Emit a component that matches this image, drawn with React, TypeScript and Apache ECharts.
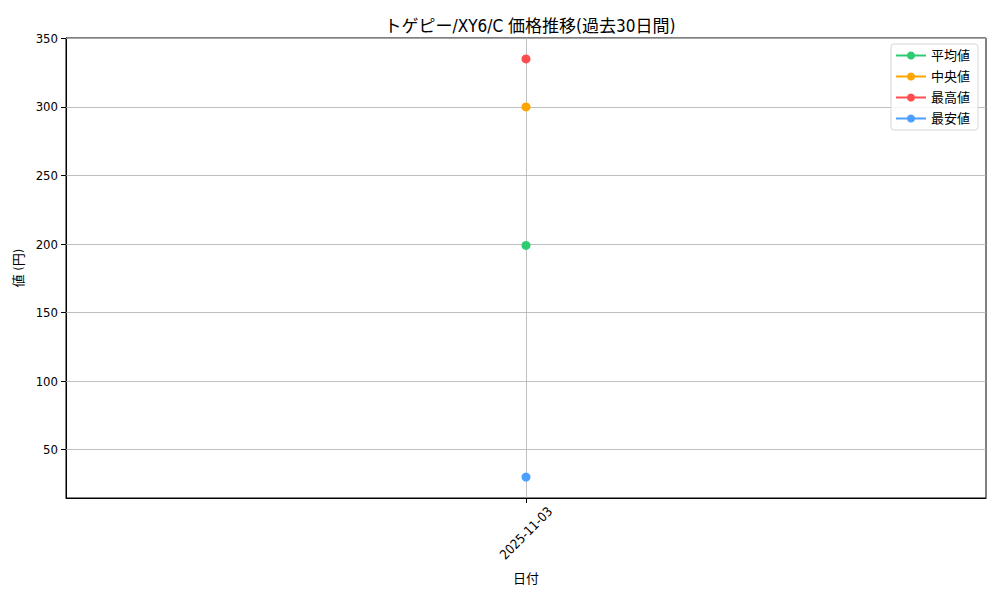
import { useEffect, useRef } from 'react';
import * as echarts from 'echarts';

// ─── Data ─────────────────────────────────────────────────────────────────────

const TITLE = 'トゲピー/XY6/C 価格推移(過去30日間)';
const DATES = ['2025-11-03'];
const SERIES_NAMES = ['平均値', '中央値', '最高値', '最安値'];
const SERIES_COLORS = ['#2ecc71', '#ffa500', '#ff4d4d', '#4d9fff'];
const AVG_VALUES = [199];
const MEDIAN_VALUES = [300];
const MAX_VALUES = [335];
const MIN_VALUES = [30];
const Y_TICKS = [50, 100, 150, 200, 250, 300, 350];
const Y_MIN = 14.75;
const Y_MAX = 350.25;

const FONT = "'DejaVu Sans Condensed', 'Noto Sans CJK JP', sans-serif";
const GRID_COLOR = '#b0b0b0';

function buildOption(): echarts.EChartsOption {
  const values = [AVG_VALUES, MEDIAN_VALUES, MAX_VALUES, MIN_VALUES];

  const lines = SERIES_NAMES.map((name, i) => ({
    name,
    type: 'line' as const,
    data: values[i],
    symbol: 'circle',
    symbolSize: 9,
    showSymbol: true,
    itemStyle: { color: SERIES_COLORS[i], opacity: 1, borderWidth: 0 },
    lineStyle: { color: SERIES_COLORS[i], width: 1.5 },
    emphasis: { disabled: true },
    z: 3,
  }));

  // gridlines drawn as a mark line layer under the points
  const gridSeries = {
    name: '__grid',
    type: 'line' as const,
    data: [],
    silent: true,
    z: 1,
    markLine: {
      silent: true,
      z: 1,
      symbol: ['none', 'none'],
      label: { show: false },
      lineStyle: { color: GRID_COLOR, width: 0.8, type: 'solid' as const },
      data: [
        ...Y_TICKS.map((v) => ({ yAxis: v })),
        ...DATES.map((d) => ({ xAxis: d })),
      ],
    },
  };

  return {
    animation: false,
    backgroundColor: '#ffffff',
    textStyle: { fontFamily: FONT },
    title: {
      text: TITLE,
      left: 525,
      textAlign: 'center',
      top: 12,
      textStyle: { fontFamily: FONT, fontSize: 17, fontWeight: 'normal', color: '#000' },
    },
    grid: {
      left: 66,
      top: 38,
      width: 920,
      height: 460,
      show: true,
      borderColor: '#000',
      borderWidth: 1,
      containLabel: false,
    },
    legend: {
      data: SERIES_NAMES,
      orient: 'vertical',
      right: 22,
      top: 44,
      itemWidth: 30,
      itemHeight: 10,
      itemGap: 8,
      padding: [5, 8, 5, 4],
      borderColor: '#d6d6d6',
      borderWidth: 1,
      borderRadius: 3,
      backgroundColor: 'rgba(255,255,255,0.8)',
      textStyle: { fontFamily: FONT, fontSize: 13, color: '#000' },
    },
    xAxis: {
      type: 'category',
      data: DATES,
      name: '日付',
      nameLocation: 'middle',
      nameGap: 74,
      nameTextStyle: { fontFamily: FONT, fontSize: 13, color: '#000' },
      axisLine: { show: true, lineStyle: { color: '#000', width: 1 } },
      axisTick: { show: true, alignWithLabel: true, length: 5, lineStyle: { color: '#000' } },
      axisLabel: {
        rotate: 45,
        align: 'center',
        verticalAlign: 'middle',
        margin: 35,
        fontFamily: FONT,
        fontSize: 13,
        color: '#000',
      },
      splitLine: { show: false },
    },
    yAxis: {
      type: 'value',
      min: Y_MIN,
      max: Y_MAX,
      name: '値 (円)',
      nameLocation: 'middle',
      nameGap: 40,
      nameTextStyle: { fontFamily: FONT, fontSize: 13, color: '#000' },
      axisLine: { show: true, lineStyle: { color: '#000', width: 1 } },
      axisTick: { show: true, length: 5, lineStyle: { color: '#000' }, customValues: Y_TICKS },
      axisLabel: { fontFamily: FONT, fontSize: 13, color: '#000', margin: 8, customValues: Y_TICKS },
      splitLine: { show: false },
    },
    series: [gridSeries, ...lines],
  } as echarts.EChartsOption;
}

// ─── Component ────────────────────────────────────────────────────────────────

export default function App() {
  const containerRef = useRef<HTMLDivElement>(null);

  useEffect(() => {
    if (!containerRef.current) return;
    const chart = echarts.init(containerRef.current, null, { renderer: 'svg' });
    chart.setOption(buildOption());
    return () => chart.dispose();
  }, []);

  return (
    <div
      ref={containerRef}
      style={{ position: 'fixed', left: 0, top: 0, width: 1000, height: 600, background: '#fff' }}
    />
  );
}
